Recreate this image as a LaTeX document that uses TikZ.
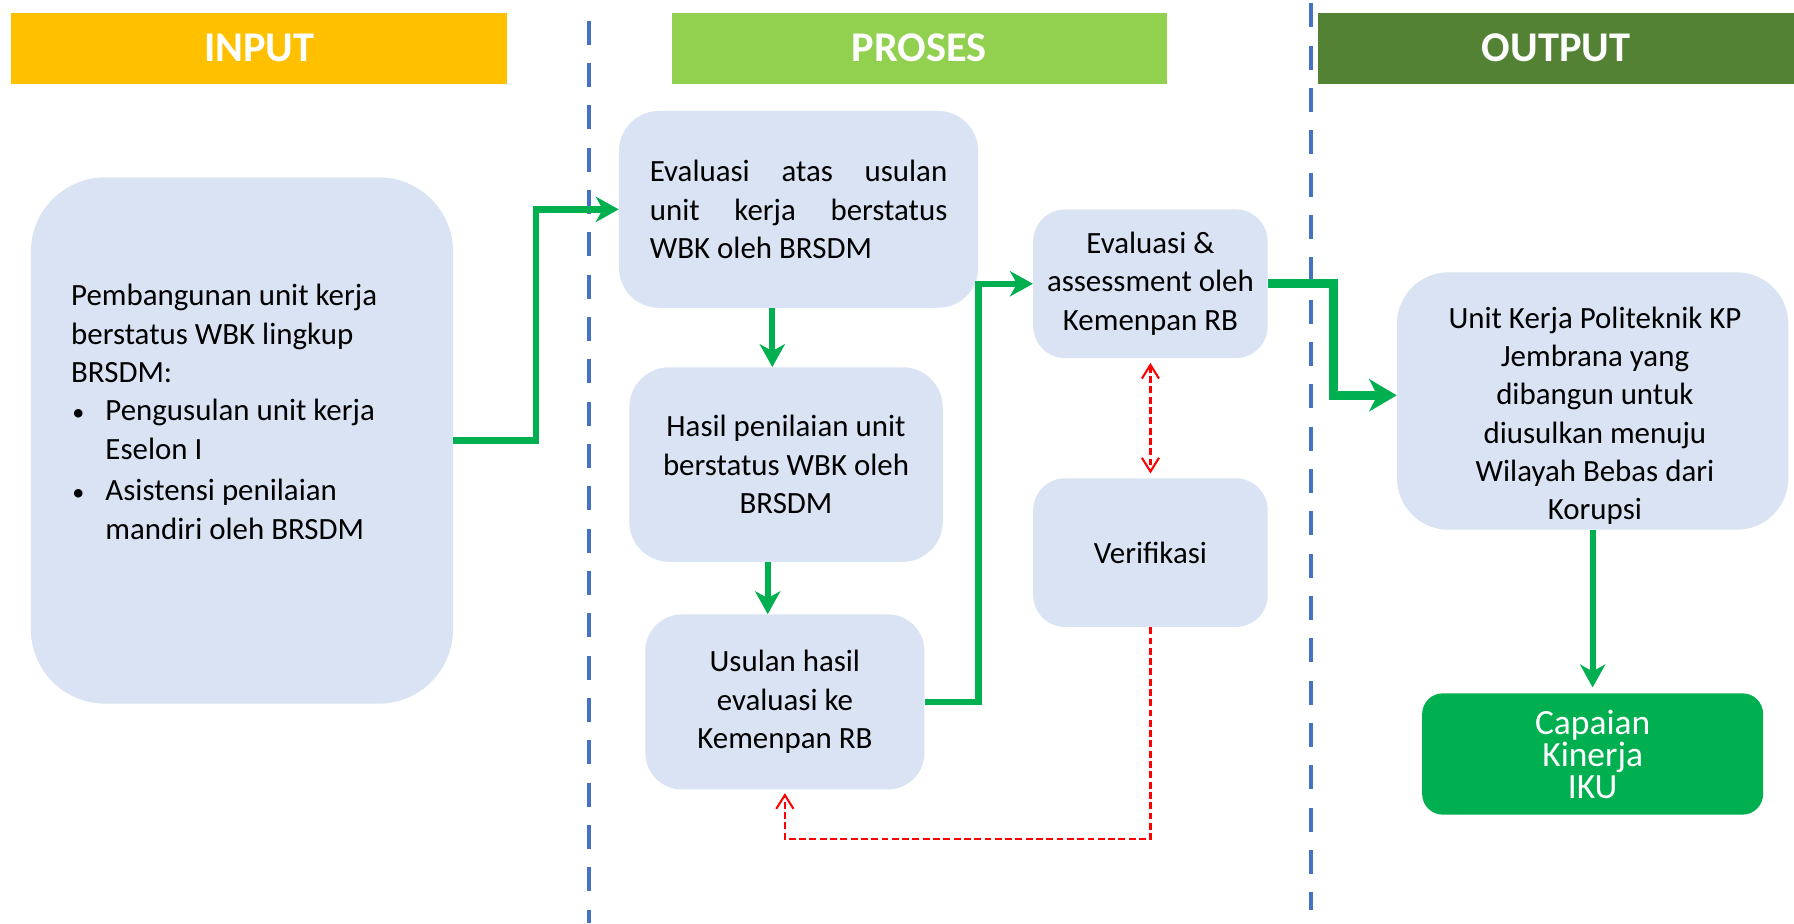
\documentclass[tikz,border=0pt]{standalone}
\usepackage{fontspec}
\setmainfont{Carlito}
\usetikzlibrary{arrows.meta,calc}
\definecolor{boxblue}{HTML}{DAE3F3}
\definecolor{hin}{HTML}{FFC000}
\definecolor{hpro}{HTML}{92D050}
\definecolor{hout}{HTML}{548235}
\definecolor{garr}{HTML}{00B050}
\definecolor{bdash}{HTML}{4472C4}
\definecolor{rdash}{HTML}{FF0000}
\tikzset{rtip/.tip={Straight Barb[length=12pt,width=15pt,line width=1.8pt]}}
\newcommand{\smbul}{{\fontsize{21}{21}\selectfont •}}
\begin{document}
\begin{tikzpicture}[x=1pt,y=-1pt,
  box/.style={fill=boxblue, draw=none, rounded corners=#1, inner sep=0pt,
    font=\fontsize{27}{33.5}\selectfont},
  box/.default=35pt,
  txt/.style={inner sep=0pt, font=\fontsize{27}{33.5}\selectfont},
  head/.style={fill=#1, draw=none, inner sep=0pt, minimum height=62pt,
    text=white, font=\fontsize{37}{40}\selectfont\bfseries},
  sep/.style={draw=bdash, line width=3.5pt, dash pattern=on 21pt off 16pt},
  garrow/.style={draw=garr, line width=5.5pt, -{Stealth[length=20pt,width=22pt,inset=6pt]}},
  rarrow/.style={draw=rdash, line width=1.9pt, dash pattern=on 6pt off 3pt}
]
\useasboundingbox (0,0) rectangle (1568,807);

% headers
\node[head=hin, minimum width=433pt] (hinput) at (226.5,42) {INPUT};
\node[head=hpro, minimum width=433pt] (hproses) at (803.5,42) {PROSES};
\node[head=hout, minimum width=416pt] (houtput) at (1360,42) {OUTPUT};

% separators
\coordinate (s1top) at (515,18);
\coordinate (s1bot) at (515,807);
\coordinate (s2top) at (1146,3);
\coordinate (s2bot) at (1146,795);
\draw[sep] (s1top) -- (s1bot);
\draw[sep] (s2top) -- (s2bot);

% boxes
\node[box=65pt, minimum width=369pt, minimum height=460pt] (inp) at (211.5,385) {};
\node[txt, anchor=west, align=left] (inptext) at (62,360) {Pembangunan unit kerja\\
berstatus WBK lingkup\\
BRSDM:\\
\hspace*{1pt}\makebox[29pt][l]{\smbul}Pengusulan unit kerja\\
\hspace*{30pt}Eselon I\\[3pt]
\hspace*{1pt}\makebox[29pt][l]{\smbul}Asistensi penilaian\\
\hspace*{30pt}mandiri oleh BRSDM};

\node[box, minimum width=314pt, minimum height=172pt, text width=260pt, align=justify] (eval) at (698,183)
  {Evaluasi atas usulan unit kerja berstatus WBK oleh BRSDM};
\node[box, minimum width=274pt, minimum height=170pt, align=center] (hasil) at (687,406)
  {Hasil penilaian unit\\ berstatus WBK oleh\\ BRSDM};
\node[box=32pt, minimum width=244pt, minimum height=153pt, align=center] (usulan) at (686,613.5)
  {Usulan hasil\\ evaluasi ke\\ Kemenpan RB};
\node[box=28pt, minimum width=205pt, minimum height=130pt, align=center] (evalas) at (1005.5,248)
  {Evaluasi \&\\ assessment oleh\\ Kemenpan RB};
\node[box=28pt, minimum width=205pt, minimum height=130pt, align=center] (verif) at (1005.5,483)
  {Verifikasi};
\node[box=45pt, minimum width=342pt, minimum height=225pt] (outb) at (1392,350.5) {};
\node[txt, align=center] (outtext) at (1394,363.5)
  {Unit Kerja Politeknik KP\\ Jembrana yang\\ dibangun untuk\\ diusulkan menuju\\ Wilayah Bebas dari\\ Korupsi};
\node[fill=garr, draw=none, rounded corners=18pt, inner sep=0pt, minimum width=298pt, minimum height=106pt,
  text=white, align=center, font=\fontsize{31}{28}\selectfont] (cap) at (1392,659)
  {\raisebox{3pt}{\parbox{200pt}{\centering Capaian\\ Kinerja\\ IKU}}};

% green connectors
\draw[garrow] (inp.east) -- ++(72,0) |- (eval.west);
\draw[garrow] ([xshift=-23pt]eval.south) -- ([xshift=-23pt]eval.south |- hasil.north);
\draw[garrow] ([xshift=-16pt]hasil.south) -- ([xshift=-16pt]hasil.south |- usulan.north);
\draw[garrow] (usulan.east) -- ++(47,0) |- (evalas.west);
\draw[garrow, line width=8pt, -{Stealth[length=24pt,width=28pt,inset=7pt]}] (evalas.east) -- ++(57,0) |- ([yshift=5pt]outb.west);
\draw[garrow, shorten >=5pt] (outb.south) -- (cap.north);

% red dashed connectors
\draw[rarrow, {rtip}-{rtip}, shorten <=4pt, shorten >=4pt] (evalas.south) -- (verif.north);
\draw[rarrow, -{rtip}, shorten >=3pt] (verif.south) -- ++(0,185) -| (usulan.south);
\end{tikzpicture}
\end{document}
